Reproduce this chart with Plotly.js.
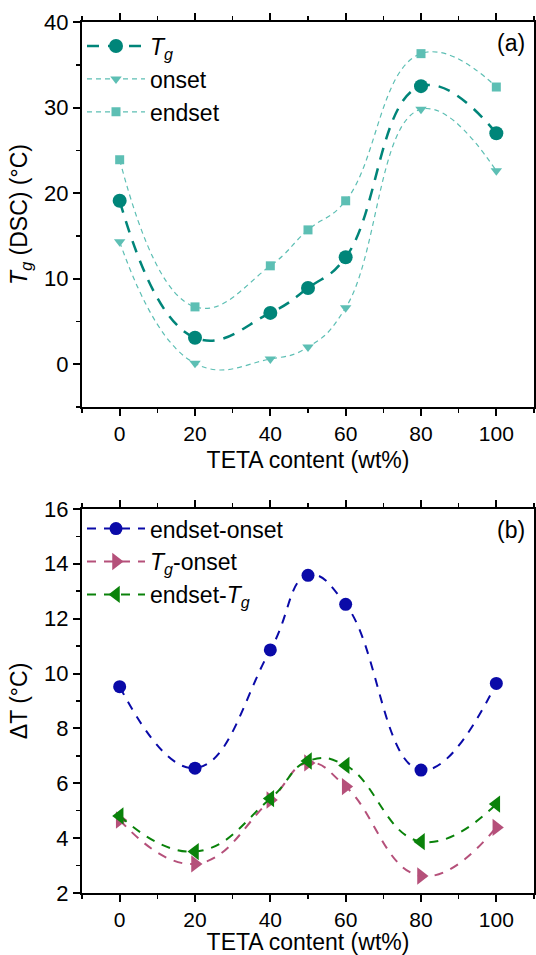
<!DOCTYPE html>
<html>
<head>
<meta charset="utf-8">
<script src="https://cdn.plot.ly/plotly-3.0.1.min.js"></script>
<style>html,body{margin:0;padding:0;background:#fff;}#chart{width:536px;height:955px;}</style>
</head>
<body>
<div id="chart"></div>
<script>
const tetaContent = [0, 20, 40, 50, 60, 80, 100];
const tgDSC = [19.1, 3.1, 6.0, 8.9, 12.5, 32.5, 27.0];
const tgOnset = [14.3, 0.1, 0.6, 2.0, 6.6, 29.8, 22.6];
const tgEndset = [23.9, 6.7, 11.5, 15.7, 19.1, 36.3, 32.4];
const endsetMinusOnset = [9.52, 6.55, 10.86, 13.58, 12.52, 6.48, 9.64];
const tgMinusOnset = [4.66, 3.06, 5.39, 6.74, 5.88, 2.62, 4.39];
const endsetMinusTg = [4.81, 3.51, 5.44, 6.81, 6.65, 3.87, 5.24];

const FONT = '"Liberation Sans", Arial, sans-serif';
const teal = '#008579', lightTeal = '#5dbfb4';
const blue = '#0a0aa8', pink = '#b5507a', green = '#0a820a';

const traces = [
  {x: tetaContent, y: tgDSC, name: '<i>T<sub>g</sub></i>', mode: 'lines+markers', xaxis: 'x', yaxis: 'y',
   line: {color: teal, width: 2.5, dash: '12px,9px', shape: 'spline', smoothing: 1.3},
   marker: {symbol: 'circle', size: 14, color: teal}, legend: 'legend'},
  {x: tetaContent, y: tgOnset, name: 'onset', mode: 'lines+markers', xaxis: 'x', yaxis: 'y',
   line: {color: lightTeal, width: 1.2, dash: '5px,4px', shape: 'spline', smoothing: 1.3},
   marker: {symbol: 'triangle-down', size: 10, color: lightTeal}, legend: 'legend'},
  {x: tetaContent, y: tgEndset, name: 'endset', mode: 'lines+markers', xaxis: 'x', yaxis: 'y',
   line: {color: lightTeal, width: 1.2, dash: '5px,4px', shape: 'spline', smoothing: 1.3},
   marker: {symbol: 'square', size: 9, color: lightTeal}, legend: 'legend'},
  {x: tetaContent, y: endsetMinusOnset, name: 'endset-onset', mode: 'lines+markers', xaxis: 'x2', yaxis: 'y2',
   line: {color: blue, width: 2, dash: '9px,8px', shape: 'spline', smoothing: 1.3},
   marker: {symbol: 'circle', size: 13, color: blue}, legend: 'legend2'},
  {x: tetaContent, y: tgMinusOnset, name: '<i>T<sub>g</sub></i>-onset', mode: 'lines+markers', xaxis: 'x2', yaxis: 'y2',
   line: {color: pink, width: 2, dash: '9px,8px', shape: 'spline', smoothing: 1.3},
   marker: {symbol: 'triangle-right', size: 15, color: pink}, legend: 'legend2'},
  {x: tetaContent, y: endsetMinusTg, name: 'endset-<i>T<sub>g</sub></i>', mode: 'lines+markers', xaxis: 'x2', yaxis: 'y2',
   line: {color: green, width: 2, dash: '9px,8px', shape: 'spline', smoothing: 1.3},
   marker: {symbol: 'triangle-left', size: 15, color: green}, legend: 'legend2'}
];

function xAxis(anchor) {
  return {
    anchor: anchor, range: [-10, 110], tickvals: [0, 20, 40, 60, 80, 100],
    showline: true, linecolor: '#000', linewidth: 2, mirror: 'ticks',
    ticks: 'outside', ticklen: 7, tickwidth: 2, tickcolor: '#000',
    minor: {dtick: 10, tick0: 0, ticks: 'outside', ticklen: 4, tickwidth: 1.5, tickcolor: '#000', showgrid: false},
    showgrid: false, zeroline: false,
    tickfont: {family: FONT, size: 21, color: '#000'},
    title: {text: 'TETA content (wt%)', font: {family: FONT, size: 23, color: '#000'}, standoff: 8}
  };
}
function yAxis(anchor, domain, range, dtick, minorDtick, titleText) {
  return {
    anchor: anchor, domain: domain, range: range, dtick: dtick, tick0: 0,
    showline: true, linecolor: '#000', linewidth: 2, mirror: true,
    ticks: 'outside', ticklen: 7, tickwidth: 2, tickcolor: '#000',
    minor: {dtick: minorDtick, ticks: 'outside', ticklen: 4, tickwidth: 1.5, tickcolor: '#000', showgrid: false},
    showgrid: false, zeroline: false,
    tickfont: {family: FONT, size: 22, color: '#000'},
    title: {text: titleText, font: {family: FONT, size: 23, color: '#000'}, standoff: 10}
  };
}

const legendBase = {xref: 'paper', yref: 'paper', xanchor: 'left', yanchor: 'top', itemwidth: 58,
  bgcolor: 'rgba(0,0,0,0)', font: {family: FONT, size: 23, color: '#000'}, tracegroupgap: 0};

const layout = {
  width: 536, height: 955,
  margin: {l: 82, r: 2, t: 22, b: 62},
  paper_bgcolor: '#fff', plot_bgcolor: '#fff',
  font: {family: FONT, color: '#000'},
  xaxis: xAxis('y'),
  yaxis: yAxis('x', [0.558, 1], [-5, 40], 10, 5, '<i>T<sub>g</sub></i> (DSC) (°C)'),
  xaxis2: xAxis('y2'),
  yaxis2: yAxis('x2', [0, 0.441], [2, 16], 2, 1, 'ΔT (°C)'),
  legend: Object.assign({x: 0.0, y: 0.997}, legendBase),
  legend2: Object.assign({x: 0.0, y: 0.443}, legendBase),
  annotations: [
    {text: '(a)', xref: 'x domain', yref: 'y domain', x: 0.985, y: 0.985, xanchor: 'right', yanchor: 'top',
     showarrow: false, font: {family: FONT, size: 23, color: '#000'}},
    {text: '(b)', xref: 'x2 domain', yref: 'y2 domain', x: 0.985, y: 0.985, xanchor: 'right', yanchor: 'top',
     showarrow: false, font: {family: FONT, size: 23, color: '#000'}}
  ],
  showlegend: true
};

Plotly.newPlot('chart', traces, layout, {displayModeBar: false, staticPlot: true});
</script>
</body>
</html>
